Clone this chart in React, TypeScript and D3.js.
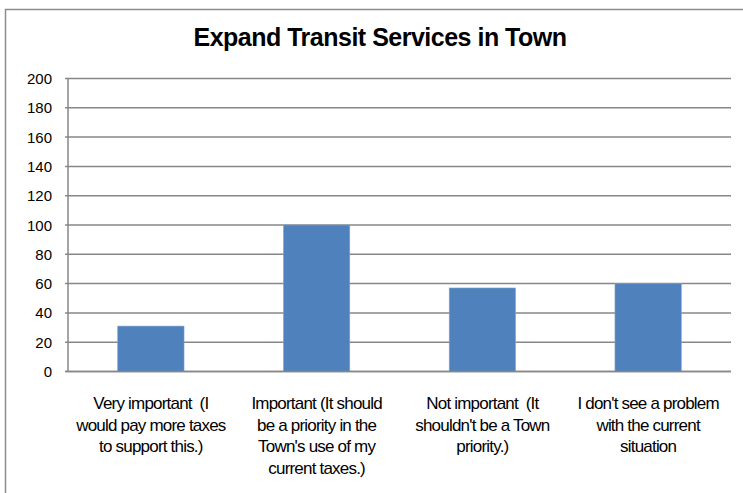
import React, { useEffect, useRef } from 'react';
import * as d3 from 'd3';

const categories = [
  ['Very important  (I', 'would pay more taxes', 'to support this.)'],
  ['Important (It should', 'be a priority in the', "Town's use of my", 'current taxes.)'],
  ['Not important  (It', "shouldn't be a Town", 'priority.)'],
  ["I don't see a problem", 'with the current', 'situation'],
];
const values = [31, 100, 57, 60];
const yTicks = [0, 20, 40, 60, 80, 100, 120, 140, 160, 180, 200];
const title = 'Expand Transit Services in Town';

const App = () => {
  const ref = useRef<SVGSVGElement | null>(null);

  useEffect(() => {
    const svg = d3.select(ref.current);
    svg.selectAll('*').remove();

    const left = 68;
    const right = 731;
    const top = 78.5;
    const bottom = 371.5;
    const font = '"Liberation Sans", Arial, sans-serif';

    // frame (only top and left edges are visible)
    svg.append('path')
      .attr('d', 'M5.5,493 L5.5,9.5 L743,9.5')
      .attr('fill', 'none')
      .attr('stroke', '#8c8c8c')
      .attr('stroke-width', 1.5);

    svg.append('text')
      .text(title)
      .attr('x', 380)
      .attr('y', 46)
      .attr('text-anchor', 'middle')
      .attr('font-family', font)
      .attr('font-weight', 'bold')
      .attr('font-size', 25)
      .attr('letter-spacing', -0.5)
      .attr('fill', '#000');

    const x = d3.scaleBand<number>()
      .domain(d3.range(categories.length))
      .range([left, right])
      .padding(0);

    const y = d3.scaleLinear().domain([0, 200]).range([bottom, top]);

    const grid = svg.append('g');
    grid.selectAll('line')
      .data(yTicks)
      .enter()
      .append('line')
      .attr('x1', left - 3)
      .attr('x2', right)
      .attr('y1', d => y(d))
      .attr('y2', d => y(d))
      .attr('stroke', '#878787')
      .attr('stroke-width', 1.5);

    svg.append('g')
      .selectAll('text')
      .data(yTicks)
      .enter()
      .append('text')
      .text(d => d)
      .attr('x', 52)
      .attr('y', d => y(d) + 5.5)
      .attr('text-anchor', 'end')
      .attr('font-family', font)
      .attr('font-size', 15)
      .attr('fill', '#000');

    const barW = x.bandwidth() * 0.4;
    svg.append('g')
      .selectAll('rect')
      .data(values)
      .enter()
      .append('rect')
      .attr('x', (d, i) => (x(i) as number) + (x.bandwidth() - barW) / 2)
      .attr('y', d => y(d))
      .attr('width', barW)
      .attr('height', d => bottom - y(d))
      .attr('fill', '#4f81bd')
      .attr('stroke', '#7fa2cf')
      .attr('stroke-width', 0.6);

    // axes lines
    svg.append('line')
      .attr('x1', left).attr('x2', left)
      .attr('y1', top).attr('y2', bottom)
      .attr('stroke', '#878787')
      .attr('stroke-width', 1.5);
    svg.append('line')
      .attr('x1', left - 3).attr('x2', right)
      .attr('y1', bottom).attr('y2', bottom)
      .attr('stroke', '#878787')
      .attr('stroke-width', 1.5);

    const labels = svg.append('g')
      .selectAll('text')
      .data(categories)
      .enter()
      .append('text')
      .attr('text-anchor', 'middle')
      .attr('font-family', font)
      .attr('font-size', 17)
      .attr('letter-spacing', -0.8)
      .style('white-space', 'pre')
      .attr('fill', '#000');

    labels.selectAll('tspan')
      .data((d, i) => d.map(line => ({ line, i })))
      .enter()
      .append('tspan')
      .attr('x', d => (x(d.i) as number) + x.bandwidth() / 2)
      .attr('y', (d, j) => 409 + j * 21.5)
      .text(d => d.line);
  }, []);

  return (
    <svg
      ref={ref}
      width={743}
      height={493}
      style={{ position: 'absolute', left: 0, top: 0, background: '#fff' }}
    />
  );
};

export default App;
